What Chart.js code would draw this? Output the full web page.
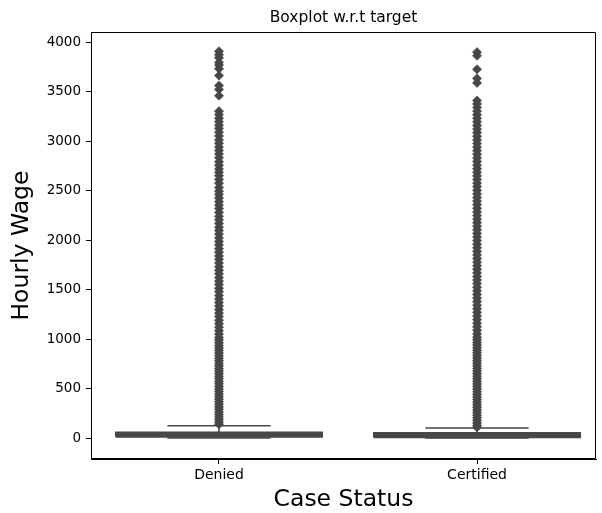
<!DOCTYPE html>
<html>
<head>
<meta charset="utf-8">
<script src="https://cdn.jsdelivr.net/npm/chart.js@4.4.1/dist/chart.umd.min.js"></script>
<style>
  html, body { margin: 0; padding: 0; background: #fff; }
  canvas { display: block; }
</style>
</head>
<body>
<canvas id="chart" width="602" height="513"></canvas>
<script>
// Hourly wage distribution per case status
const categories = ['Denied', 'Certified'];
const lowerWhisker = [0, 0];
const q1 = [12, 6];
const median = [38, 30];
const q3 = [58, 52];
const upperWhisker = [124, 101];

const outliersDenied = [
  3907, 3872, 3841, 3795, 3768, 3730, 3662,
  3561, 3522, 3458,
  3302, 3268, 3231, 3195, 3160, 3128, 3090, 3052, 3011, 2978, 2941, 2905,
  2870, 2832, 2790, 2755, 2718, 2684, 2650, 2612, 2575, 2530, 2494, 2461,
  2425, 2388, 2352, 2318, 2279, 2240, 2205, 2168, 2130, 2096, 2060, 2022,
  1985, 1950, 1912, 1878, 1840, 1806, 1768, 1730, 1694, 1660, 1621, 1585,
  1550, 1512, 1478, 1440, 1405, 1370, 1334, 1298, 1262, 1228, 1190, 1155,
  1120, 1084, 1050, 1015, 990, 962, 935, 910, 884, 858, 831, 806, 780, 752,
  727, 700, 676, 650, 623, 598, 572, 548, 521, 495, 470, 443, 418, 392, 366,
  341, 315, 290, 264, 238, 212, 188, 163, 140
];

const outliersCertified = [
  3898, 3862, 3725, 3632, 3588,
  3410, 3375, 3340, 3302, 3266, 3230, 3194, 3158, 3121, 3085, 3048, 3012,
  2976, 2940, 2903, 2866, 2830, 2794, 2757, 2720, 2684, 2648, 2611, 2575,
  2540, 2503, 2466, 2430, 2394, 2358, 2321, 2284, 2248, 2212, 2176, 2140,
  2103, 2067, 2031, 1995, 1958, 1922, 1886, 1850, 1813, 1777, 1740, 1704,
  1668, 1632, 1596, 1560, 1523, 1487, 1451, 1414, 1378, 1342, 1305, 1270,
  1233, 1197, 1160, 1124, 1088, 1052, 1018, 992, 966, 940, 913, 887, 861,
  835, 808, 782, 756, 730, 703, 677, 651, 625, 598, 572, 546, 520, 494, 467,
  441, 415, 389, 362, 336, 310, 284, 257, 231, 205, 179, 152, 126, 108
];

const yTicks = [0, 500, 1000, 1500, 2000, 2500, 3000, 3500, 4000];

const INK = '#474747';
const BOX_HALF = 0.4;
const CAP_HALF = 0.2;
const FONT = 'DejaVu Sans';

Chart.defaults.font.family = FONT;

function lineSet(points, extra) {
  return Object.assign({
    data: points,
    showLine: true,
    borderColor: INK,
    borderWidth: 1.6,
    pointRadius: 0,
    pointHoverRadius: 0,
    fill: false
  }, extra || {});
}

const datasets = [];
const outlierLists = [outliersDenied, outliersCertified];

categories.forEach((cat, i) => {
  // whiskers
  datasets.push(lineSet([{ x: i, y: q3[i] }, { x: i, y: upperWhisker[i] }]));
  datasets.push(lineSet([{ x: i, y: q1[i] }, { x: i, y: lowerWhisker[i] }]));
  // caps
  datasets.push(lineSet([{ x: i - CAP_HALF, y: upperWhisker[i] }, { x: i + CAP_HALF, y: upperWhisker[i] }]));
  datasets.push(lineSet([{ x: i - CAP_HALF, y: lowerWhisker[i] }, { x: i + CAP_HALF, y: lowerWhisker[i] }]));
  // box
  datasets.push(lineSet([
    { x: i - BOX_HALF, y: q1[i] }, { x: i + BOX_HALF, y: q1[i] },
    { x: i + BOX_HALF, y: q3[i] }, { x: i - BOX_HALF, y: q3[i] },
    { x: i - BOX_HALF, y: q1[i] }
  ], { fill: 'shape', backgroundColor: INK }));
  // median
  datasets.push(lineSet([{ x: i - BOX_HALF, y: median[i] }, { x: i + BOX_HALF, y: median[i] }]));
  // outliers
  datasets.push({
    data: outlierLists[i].map(v => ({ x: i, y: v })),
    showLine: false,
    pointStyle: 'rectRot',
    pointRadius: 4.6,
    pointHoverRadius: 4.6,
    pointBackgroundColor: INK,
    pointBorderColor: INK,
    pointBorderWidth: 0.6
  });
});

// outline of the full plotting area (all four spines)
const frame = {
  id: 'frame',
  afterDatasetsDraw(chart) {
    const { ctx, chartArea: a } = chart;
    ctx.save();
    ctx.strokeStyle = '#000';
    ctx.lineWidth = 1;
    const l = Math.round(a.left) + 0.5, t = Math.round(a.top) + 0.5;
    const r = Math.round(a.right) - 0.5, b = Math.round(a.bottom) - 0.5;
    ctx.beginPath();
    ctx.moveTo(l, b); ctx.lineTo(l, t); ctx.lineTo(r, t); ctx.lineTo(r, b); ctx.lineTo(l, b);
    ctx.stroke();
    ctx.restore();
  }
};

new Chart(document.getElementById('chart'), {
  type: 'scatter',
  data: { datasets },
  options: {
    responsive: false,
    animation: false,
    events: [],
    layout: { padding: { left: 0, right: 6, top: 0, bottom: 0 } },
    plugins: {
      legend: { display: false },
      tooltip: { enabled: false },
      title: {
        display: true,
        text: 'Boxplot w.r.t target',
        fullSize: false,
        color: '#000',
        font: { family: FONT, size: 15.5, weight: 'normal', lineHeight: 1.2 },
        padding: { top: 8.5, bottom: 5 }
      }
    },
    scales: {
      x: {
        type: 'linear',
        min: -0.496,
        max: 1.461,
        afterBuildTicks: s => { s.ticks = categories.map((c, i) => ({ value: i })); },
        afterFit: s => { s.height = 54; },
        ticks: {
          callback: v => categories[v],
          color: '#000',
          font: { family: FONT, size: 14 },
          padding: 3,
          maxRotation: 0,
          autoSkip: false
        },
        grid: { drawOnChartArea: false, drawTicks: true, tickLength: 5, color: '#000', tickWidth: 1 },
        border: { display: true, color: '#000', width: 1 },
        title: {
          display: true,
          text: 'Case Status',
          color: '#000',
          font: { family: FONT, size: 23.5, lineHeight: 1.1 },
          padding: { top: 0, bottom: 0 }
        }
      },
      y: {
        type: 'linear',
        min: -212,
        max: 4101,
        afterBuildTicks: s => { s.ticks = yTicks.map(v => ({ value: v })); },
        afterFit: s => { s.width = 91; },
        ticks: {
          callback: v => String(v),
          color: '#000',
          font: { family: FONT, size: 13.5 },
          padding: 5,
          autoSkip: false
        },
        grid: { drawOnChartArea: false, drawTicks: true, tickLength: 5, color: '#000', tickWidth: 1 },
        border: { display: true, color: '#000', width: 1 },
        title: {
          display: true,
          text: 'Hourly Wage',
          color: '#000',
          font: { family: FONT, size: 23.5, lineHeight: 1.2 },
          padding: { top: 8, bottom: 0 }
        }
      }
    }
  },
  plugins: [frame]
});
</script>
</body>
</html>
